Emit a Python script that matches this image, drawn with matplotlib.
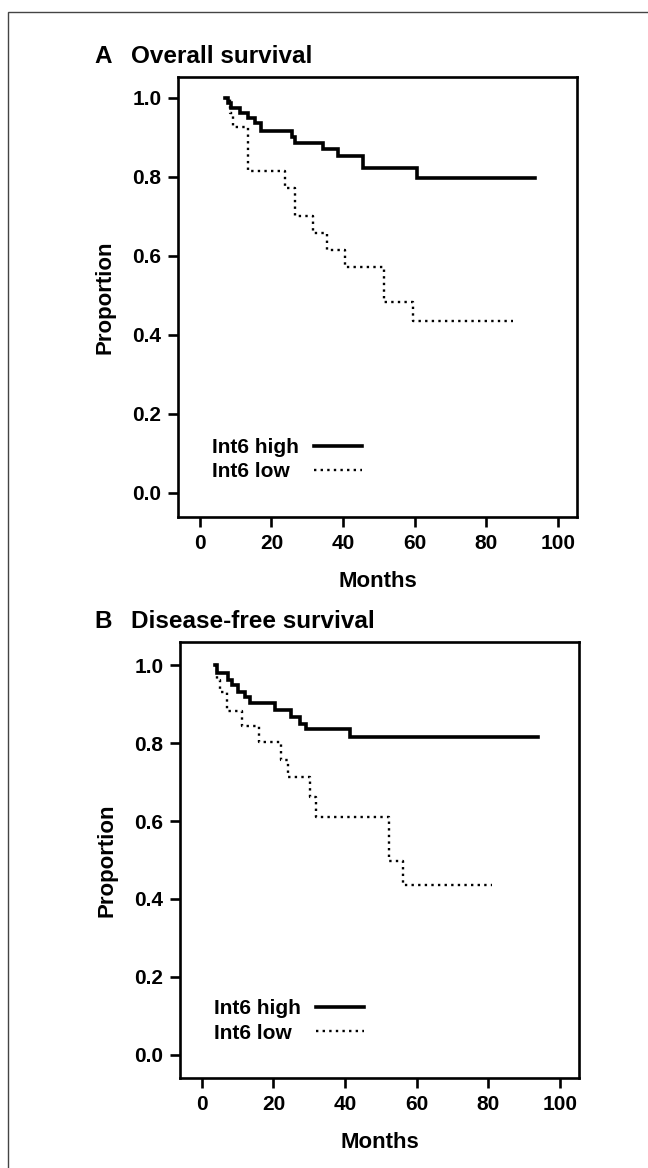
import matplotlib
matplotlib.use("Agg")
import matplotlib.pyplot as plt
from matplotlib.patches import Rectangle

plt.rcParams['font.family'] = ['Liberation Sans', 'DejaVu Sans']
plt.rcParams['font.weight'] = 'bold'

# Panel A - overall survival (Kaplan-Meier steps)
os_high_months = [7.0, 7.9, 8.8, 11.2, 13.5, 15.4, 17.2, 25.6, 26.5, 34.5, 38.6, 45.6, 60.5, 93.6]
os_high_prop = [1.0, 0.987, 0.974, 0.961, 0.949, 0.936, 0.916, 0.902, 0.885, 0.870, 0.853, 0.822, 0.797, 0.797]
os_low_months = [7.0, 8.3, 9.3, 13.5, 23.7, 26.5, 31.7, 35.4, 40.5, 51.5, 59.6, 87.5]
os_low_prop = [1.0, 0.963, 0.927, 0.815, 0.771, 0.700, 0.657, 0.615, 0.573, 0.484, 0.434, 0.434]

# Panel B - disease-free survival
dfs_high_months = [3.6, 4.1, 7.4, 8.3, 10.1, 12.0, 13.4, 20.4, 25.0, 27.4, 29.2, 41.3, 93.9]
dfs_high_prop = [1.0, 0.979, 0.962, 0.949, 0.932, 0.919, 0.902, 0.885, 0.867, 0.850, 0.835, 0.816, 0.816]
dfs_low_months = [3.6, 4.3, 5.0, 7.1, 11.1, 16.0, 22.1, 24.1, 30.2, 32.0, 52.2, 56.1, 80.9]
dfs_low_prop = [1.0, 0.962, 0.932, 0.882, 0.844, 0.803, 0.756, 0.712, 0.661, 0.609, 0.498, 0.436, 0.436]

x_ticks = [0, 20, 40, 60, 80, 100]
y_ticks = [0.0, 0.2, 0.4, 0.6, 0.8, 1.0]
labels = ['Int6 high', 'Int6 low']

W, H = 648, 1168
fig = plt.figure(figsize=(W / 100, H / 100), dpi=100)

# outer frame of the figure (cut at right and bottom like the scan)
fig.patches.append(Rectangle((8 / W, -0.05), 1.2, 1 - 12 / H + 0.05,
                             transform=fig.transFigure, fill=False,
                             edgecolor='#444444', linewidth=1.0))

legends = []


def panel(rect, hi_t, hi_p, lo_t, lo_p, xlim, ylim):
    ax = fig.add_axes(rect)
    ax.step(hi_t, hi_p, where='post', color='black', lw=2.6,
            solid_joinstyle='miter', label=labels[0])
    ax.step(lo_t, lo_p, where='post', color='black', lw=1.7,
            linestyle=(0, (1, 1.8)), dash_capstyle='butt', label=labels[1])
    ax.set_xlim(*xlim)
    ax.set_ylim(*ylim)
    ax.set_xticks(x_ticks)
    ax.set_yticks(y_ticks)
    ax.set_yticklabels([f'{v:.1f}' for v in y_ticks])
    for s in ax.spines.values():
        s.set_linewidth(1.9)
    ax.tick_params(direction='out', length=7, width=1.9, labelsize=15, pad=5)
    ax.set_xlabel('Months', fontsize=16, fontweight='bold', labelpad=13)
    ax.set_ylabel('Proportion', fontsize=16, fontweight='bold', labelpad=12)
    leg = ax.legend(loc='lower left', bbox_to_anchor=(0.085, 0.081), frameon=False,
                    markerfirst=False, handlelength=2.3, handletextpad=0.75,
                    labelspacing=0.25, borderaxespad=0, borderpad=0,
                    prop={'size': 15, 'weight': 'bold'})
    legends.append(leg)
    return ax


def rect_px(l, t, r, b):
    return [l / W, 1 - b / H, (r - l) / W, (b - t) / H]


panel(rect_px(178, 77, 577, 517), os_high_months, os_high_prop,
      os_low_months, os_low_prop, (-6.1, 105.3), (-0.061, 1.053))
panel(rect_px(180, 642, 579, 1078), dfs_high_months, dfs_high_prop,
      dfs_low_months, dfs_low_prop, (-6.1, 105.3), (-0.059, 1.059))

fig.text(94 / W, 1 - 63 / H, 'A', fontsize=17.5, fontweight='bold')
fig.text(131 / W, 1 - 63 / H, 'Overall survival', fontsize=17.5, fontweight='bold')
fig.text(94 / W, 1 - 628 / H, 'B', fontsize=17.5, fontweight='bold')
fig.text(131 / W, 1 - 628 / H, 'Disease-free survival', fontsize=17.5, fontweight='bold')

# legend: texts left aligned, keys lined up on the right
fig.canvas.draw()
renderer = fig.canvas.get_renderer()
for leg in legends:
    widths = [t.get_window_extent(renderer).width for t in leg.get_texts()]
    wmax = max(widths)
    for col in leg._legend_handle_box.get_children():
        col.align = 'left'
        for item, w in zip(col.get_children(), widths):
            item.sep = item.sep + (wmax - w) * 72 / fig.dpi

fig.savefig('out.png', dpi=100)
